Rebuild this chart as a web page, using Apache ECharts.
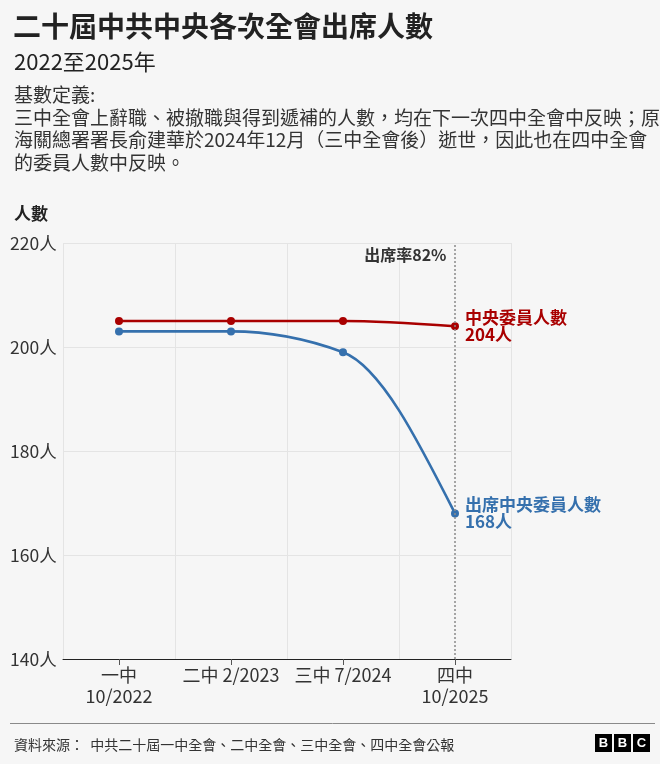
<!DOCTYPE html>
<html><head><meta charset="utf-8">
<script src="https://cdn.jsdelivr.net/npm/echarts@6/dist/echarts.min.js"></script>
<style>html,body{margin:0;padding:0;background:#f6f6f6;}#c{width:660px;height:764px;}</style>
</head><body><div id="c"></div>
<script>
var categories = ['一中\n10/2022', '二中 2/2023', '三中 7/2024', '四中\n10/2025'];
var memberCount = [205, 205, 205, 204];
var attendCount = [203, 203, 199, 168];
var yTicks = {min: 140, max: 220, interval: 20};
var memberName = '中央委員人數';
var attendName = '出席中央委員人數';
var rateText = '出席率82%';

var FONT = '"Noto Sans CJK TC","Noto Sans",sans-serif';
var RED = '#a90000', BLUE = '#3570ad';

// monotone-x cubic curve segment drawn through the chart's own scales (api.coord)
function monotoneRenderer(values, color) {
  return function (params, api) {
    var i = params.dataIndex;
    if (i >= values.length - 1) return null;
    var pts = values.map(function (v, k) { return api.coord([k, v]); });
    var n = pts.length;
    var s = [];
    for (var k = 0; k < n - 1; k++) s.push((pts[k + 1][1] - pts[k][1]) / (pts[k + 1][0] - pts[k][0]));
    var t = new Array(n);
    for (var k = 1; k < n - 1; k++) {
      var s0 = s[k - 1], s1 = s[k];
      if (s0 * s1 <= 0) { t[k] = 0; continue; }
      var p = (s0 + s1) / 2;
      t[k] = (Math.sign(s0) + Math.sign(s1)) * Math.min(Math.abs(s0), Math.abs(s1), 0.5 * Math.abs(p));
    }
    t[0] = n > 2 ? (3 * s[0] - t[1]) / 2 : s[0];
    t[n - 1] = n > 2 ? (3 * s[n - 2] - t[n - 2]) / 2 : s[n - 2];
    var a = pts[i], b = pts[i + 1], h = (b[0] - a[0]) / 3;
    return {
      type: 'bezierCurve',
      shape: {x1: a[0], y1: a[1], cpx1: a[0] + h, cpy1: a[1] + h * t[i], cpx2: b[0] - h, cpy2: b[1] - h * t[i + 1], x2: b[0], y2: b[1]},
      style: {stroke: color, lineWidth: 2.6, fill: null}
    };
  };
}

var chart = echarts.init(document.getElementById('c'), null, {renderer: 'canvas'});
var labelFmt = function (p) { return p.seriesName + '\n' + p.value + '人'; };
chart.setOption({
  backgroundColor: '#f6f6f6',
  textStyle: {fontFamily: FONT},
  title: [
    {text: '二十屆中共中央各次全會出席人數', left: 8, top: 7, textStyle: {fontFamily: FONT, fontSize: 28, fontWeight: 'bold', color: '#222'}},
    {text: '2022至2025年', left: 9, top: 46, textStyle: {fontFamily: FONT, fontSize: 22, fontWeight: 'normal', color: '#222'}},
    {text: '基數定義:\n三中全會上辭職、被撤職與得到遞補的人數，均在下一次四中全會中反映；原\n海關總署署長俞建華於2024年12月（三中全會後）逝世，因此也在四中全會\n的委員人數中反映。', left: 9, top: 79, textStyle: {fontFamily: FONT, fontSize: 19, lineHeight: 22.5, fontWeight: 'normal', color: '#333'}},
    {text: '人數', left: 9, top: 200, textStyle: {fontFamily: FONT, fontSize: 17, fontWeight: 'bold', color: '#222'}},
    {text: '資料來源：  中共二十屆一中全會、二中全會、三中全會、四中全會公報', left: 9, top: 733, textStyle: {fontFamily: FONT, fontSize: 14, fontWeight: 'normal', color: '#333'}}
  ],
  graphic: [
    {type: 'line', shape: {x1: 10, y1: 723.5, x2: 655, y2: 723.5}, style: {stroke: '#8a8a8a', lineWidth: 1}},
    {type: 'rect', shape: {x: 595, y: 734, width: 17, height: 18}, style: {fill: '#000'}},
    {type: 'rect', shape: {x: 614, y: 734, width: 17, height: 18}, style: {fill: '#000'}},
    {type: 'rect', shape: {x: 633, y: 734, width: 17, height: 18}, style: {fill: '#000'}},
    {type: 'text', x: 603.5, y: 743, style: {text: 'B', fill: '#fff', font: 'bold 13px "Liberation Sans",sans-serif', textAlign: 'center', textVerticalAlign: 'middle'}},
    {type: 'text', x: 622.5, y: 743, style: {text: 'B', fill: '#fff', font: 'bold 13px "Liberation Sans",sans-serif', textAlign: 'center', textVerticalAlign: 'middle'}},
    {type: 'text', x: 641.5, y: 743, style: {text: 'C', fill: '#fff', font: 'bold 13px "Liberation Sans",sans-serif', textAlign: 'center', textVerticalAlign: 'middle'}}
  ],
  grid: {left: 63, right: 149, top: 243, bottom: 105, containLabel: false},
  xAxis: {
    type: 'category', data: categories, boundaryGap: true,
    axisLine: {show: true, lineStyle: {color: '#222', width: 1}},
    axisTick: {show: true, alignWithLabel: true, length: 6, lineStyle: {color: '#555'}},
    axisLabel: {fontFamily: FONT, fontSize: 18, lineHeight: 21, color: '#333', margin: 6, interval: 0},
    splitLine: {show: true, lineStyle: {color: '#e4e4e4', width: 1}}
  },
  yAxis: {
    type: 'value', min: yTicks.min, max: yTicks.max, interval: yTicks.interval,
    axisLine: {show: false}, axisTick: {show: false},
    axisLabel: {formatter: '{value}人', align: 'left', margin: 53, fontFamily: FONT, fontSize: 17.5, color: '#333'},
    splitLine: {lineStyle: {color: '#e4e4e4', width: 1}}
  },
  series: [
    {
      type: 'custom', data: memberCount, renderItem: monotoneRenderer(memberCount, RED), silent: true, z: 2
    },
    {
      type: 'custom', data: attendCount, renderItem: monotoneRenderer(attendCount, BLUE), silent: true, z: 2
    },
    {
      name: memberName, type: 'line', data: memberCount,
      symbol: 'circle', symbolSize: 8, itemStyle: {color: RED}, lineStyle: {width: 0, opacity: 0},
      endLabel: {show: true, distance: 10, formatter: labelFmt,
        color: RED, fontFamily: FONT, fontSize: 17, fontWeight: 'bold', lineHeight: 17, align: 'left'},
      z: 4
    },
    {
      name: attendName, type: 'line', data: attendCount,
      symbol: 'circle', symbolSize: 8, itemStyle: {color: BLUE}, lineStyle: {width: 0, opacity: 0},
      endLabel: {show: true, distance: 10, formatter: labelFmt,
        color: BLUE, fontFamily: FONT, fontSize: 17, fontWeight: 'bold', lineHeight: 17, align: 'left'},
      markLine: {
        silent: true, symbol: ['none', 'none'],
        lineStyle: {color: '#8a8a8a', type: [2, 2], width: 1.5, opacity: 1},
        label: {show: false},
        data: [{xAxis: categories[3]}]
      },
      markPoint: {
        silent: true, symbol: 'circle', symbolSize: 1, itemStyle: {color: 'rgba(0,0,0,0)'},
        label: {show: true, position: 'left', distance: 8, offset: [0, 12], formatter: rateText,
          color: '#333', fontFamily: FONT, fontSize: 16, fontWeight: 'bold'},
        data: [{coord: [categories[3], yTicks.max]}]
      },
      z: 3
    }
  ],
  animation: false
});
</script></body></html>
